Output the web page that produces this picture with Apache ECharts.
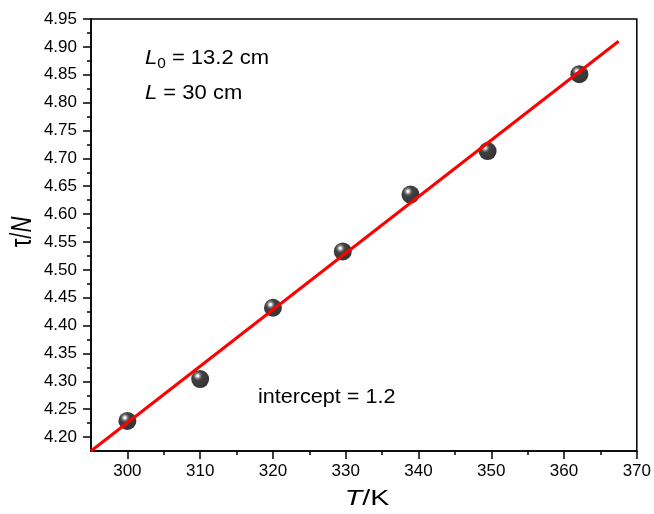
<!DOCTYPE html>
<html lang="en">
  <head>
    <meta charset="utf-8" />
    <title>tau vs T</title>
    <script src="https://cdn.jsdelivr.net/npm/echarts@6/dist/echarts.min.js"></script>
    <style>
      html, body { margin: 0; padding: 0; background: #fff; }
    </style>
  </head>
  <body>
    <div id="main" style="width: 654px;height:514px;"></div>
    <script type="text/javascript">
      // measured points
      var tempK = [300, 310, 320, 329.6, 338.9, 349.5, 362.1];
      var tau = [4.229, 4.304, 4.432, 4.533, 4.635, 4.713, 4.851];
      // fitted line ends
      var fitT = [295, 367.5];
      var fitTau = [4.175, 4.910];
      // ticks
      var xTicks = [300, 310, 320, 330, 340, 350, 360, 370];
      var xMinor = [305, 315, 325, 335, 345, 355, 365];
      var yTicks = [4.20, 4.25, 4.30, 4.35, 4.40, 4.45, 4.50, 4.55, 4.60, 4.65, 4.70, 4.75, 4.80, 4.85, 4.90, 4.95];
      var yMinor = [4.225, 4.275, 4.325, 4.375, 4.425, 4.475, 4.525, 4.575, 4.625, 4.675, 4.725, 4.775, 4.825, 4.875, 4.925];

      var font = 'Liberation Sans, Arial, Helvetica, sans-serif';
      var chart = echarts.init(document.getElementById('main'));

      var points = tempK.map(function (t, i) { return [t, tau[i]]; });
      var fit = fitT.map(function (t, i) { return [t, fitTau[i]]; });

      var xBase = { type: 'value', min: 295, max: 370, splitLine: { show: false }, position: 'bottom' };
      var yBase = { type: 'value', min: 4.175, max: 4.95, splitLine: { show: false }, position: 'left' };

      var option = {
        animation: false,
        grid: {
          left: 91, right: 16, top: 19, bottom: 63,
          show: true, borderColor: '#000', borderWidth: 1.5, backgroundColor: '#fff'
        },
        xAxis: [
          Object.assign({}, xBase, {
            axisLine: { lineStyle: { color: '#000', width: 1.5 } },
            axisTick: { customValues: xTicks, length: 8, lineStyle: { color: '#000', width: 1.5 } },
            axisLabel: { customValues: xTicks, margin: 12, color: '#000', fontSize: 17, fontFamily: font }
          }),
          Object.assign({}, xBase, {
            axisLine: { show: false },
            axisTick: { customValues: xMinor, length: 4, lineStyle: { color: '#000', width: 1.5 } },
            axisLabel: { show: false }
          })
        ],
        yAxis: [
          Object.assign({}, yBase, {
            axisLine: { lineStyle: { color: '#000', width: 1.5 } },
            axisTick: { customValues: yTicks, length: 8, lineStyle: { color: '#000', width: 1.5 } },
            axisLabel: {
              customValues: yTicks, margin: 14, color: '#000', fontSize: 17, fontFamily: font,
              formatter: function (v) { return v.toFixed(2); }
            }
          }),
          Object.assign({}, yBase, {
            axisLine: { show: false },
            axisTick: { customValues: yMinor, length: 4, lineStyle: { color: '#000', width: 1.5 } },
            axisLabel: { show: false }
          })
        ],
        series: [
          {
            type: 'line',
            data: fit,
            symbol: 'none',
            lineStyle: { color: '#ff0000', width: 3 },
            z: 3
          },
          {
            type: 'scatter',
            data: points,
            symbolSize: 18,
            itemStyle: {
              color: {
                type: 'radial', x: 0.36, y: 0.32, r: 0.72,
                colorStops: [
                  { offset: 0, color: '#ffffff' },
                  { offset: 0.08, color: '#eeeeee' },
                  { offset: 0.2, color: '#666666' },
                  { offset: 0.36, color: '#111111' },
                  { offset: 1, color: '#000000' }
                ]
              }
            },
            z: 2
          }
        ],
        graphic: [
          {
            type: 'text', x: 23, y: 232, rotation: Math.PI / 2, scaleY: 1.3,
            style: {
              text: '{a|τ}{a|/}{b|N}', align: 'center', verticalAlign: 'middle',
              rich: {
                a: { fontSize: 22, fontFamily: font, fill: '#000' },
                b: { fontSize: 22, fontFamily: font, fontStyle: 'italic', fill: '#000' }
              }
            }
          },
          {
            type: 'text', x: 367, y: 499, scaleX: 1.3,
            style: {
              text: '{b|T}{a|/K}', align: 'center', verticalAlign: 'middle',
              rich: {
                a: { fontSize: 22, fontFamily: font, fill: '#000' },
                b: { fontSize: 22, fontFamily: font, fontStyle: 'italic', fill: '#000' }
              }
            }
          },
          {
            type: 'text', x: 145, y: 58, scaleX: 1.1,
            style: {
              text: '{i|L}{s|0}{a| = 13.2 cm}', align: 'left', verticalAlign: 'middle',
              rich: {
                i: { fontSize: 20, fontFamily: font, fontStyle: 'italic', fill: '#000' },
                s: { fontSize: 14, fontFamily: font, fill: '#000', padding: [12, 0, 0, 0] },
                a: { fontSize: 20, fontFamily: font, fill: '#000' }
              }
            }
          },
          {
            type: 'text', x: 145, y: 93, scaleX: 1.1,
            style: {
              text: '{i|L}{a| = 30 cm}', align: 'left', verticalAlign: 'middle',
              rich: {
                i: { fontSize: 20, fontFamily: font, fontStyle: 'italic', fill: '#000' },
                a: { fontSize: 20, fontFamily: font, fill: '#000' }
              }
            }
          },
          {
            type: 'text', x: 258, y: 397, scaleX: 1.08,
            style: {
              text: 'intercept = 1.2', align: 'left', verticalAlign: 'middle',
              fontSize: 20, fontFamily: font, fill: '#000'
            }
          }
        ]
      };
      chart.setOption(option);
    </script>
  </body>
</html>
